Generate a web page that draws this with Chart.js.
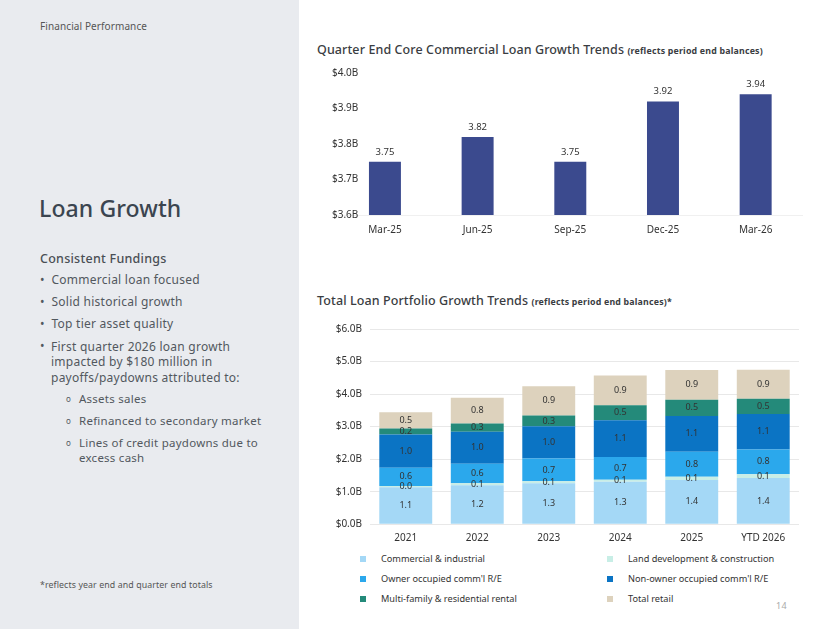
<!DOCTYPE html>
<html>
<head>
<meta charset="utf-8">
<script src="https://cdn.jsdelivr.net/npm/chart.js@4"></script>
<style>
  html, body { margin: 0; padding: 0; }
  body { width: 825px; height: 629px; position: relative; background: #fff; font-family: "Noto Sans", sans-serif; overflow: hidden; }
  #side { position: absolute; left: 0; top: 0; width: 299px; height: 629px; background: #e9ebef; }
  .t { position: absolute; white-space: nowrap; line-height: 16px; color: #52585e; letter-spacing: 0.25px; }
  .chartTitle { position: absolute; left: 317px; white-space: nowrap; color: #3a3d42; font-weight: 500; font-size: 12.5px; line-height: 16px; letter-spacing: 0.1px; }
  .chartTitle span { font-size: 8.8px; font-weight: 700; letter-spacing: 0.2px; }
  canvas { position: absolute; }
  .lg { position: absolute; font-size: 9.2px; color: #333; line-height: 12px; white-space: nowrap; }
  .lg i { position: absolute; left: -21px; top: 3px; width: 6px; height: 6px; }
</style>
</head>
<body>
<div id="side">
  <div class="t" style="left:40px;top:18px;font-size:10px;color:#555;letter-spacing:0.1px;">Financial Performance</div>
  <div class="t" style="left:39px;top:194px;font-size:23px;line-height:28px;font-weight:500;color:#3b4550;letter-spacing:0.1px;">Loan Growth</div>
  <div class="t" style="left:40px;top:251px;font-size:12.5px;font-weight:500;color:#4a4f55;">Consistent Fundings</div>
  <div class="t" style="left:40px;top:272px;font-size:12px;">•&nbsp;&nbsp;Commercial loan focused</div>
  <div class="t" style="left:40px;top:294px;font-size:12px;">•&nbsp;&nbsp;Solid historical growth</div>
  <div class="t" style="left:40px;top:316px;font-size:12px;">•&nbsp;&nbsp;Top tier asset quality</div>
  <div class="t" style="left:40px;top:338px;font-size:12px;line-height:15.4px;">•</div>
  <div class="t" style="left:51px;top:339px;font-size:12px;line-height:15.4px;">First quarter 2026 loan growth<br>impacted by $180 million in<br>payoffs/paydowns attributed to:</div>
  <div class="t" style="left:66px;top:391px;font-size:8px;">o</div>
  <div class="t" style="left:79px;top:391px;font-size:11.5px;">Assets sales</div>
  <div class="t" style="left:66px;top:413px;font-size:8px;">o</div>
  <div class="t" style="left:79px;top:413px;font-size:11.5px;">Refinanced to secondary market</div>
  <div class="t" style="left:66px;top:435px;font-size:8px;">o</div>
  <div class="t" style="left:79px;top:435px;font-size:11.5px;line-height:15px;">Lines of credit paydowns due to<br>excess cash</div>
  <div class="t" style="left:40px;top:577px;font-size:8.8px;color:#555;letter-spacing:0.1px;">*reflects year end and quarter end totals</div>
</div>

<div class="chartTitle" style="top:42px;">Quarter End Core Commercial Loan Growth Trends <span>(reflects period end balances)</span></div>
<canvas id="top" width="500" height="185" style="left:310px;top:60px;"></canvas>

<div class="chartTitle" style="top:293px;">Total Loan Portfolio Growth Trends <span>(reflects period end balances)*</span></div>
<canvas id="bottom" width="500" height="235" style="left:310px;top:315px;"></canvas>
<div id="legend"></div>
<div class="t" style="left:776px;top:598px;font-size:9px;color:#aaa;">14</div>

<script>
// quarter end core commercial loans ($B)
const quarters = ["Mar-25", "Jun-25", "Sep-25", "Dec-25", "Mar-26"];
const coreLoans = [3.75, 3.82, 3.75, 3.92, 3.94];
const coreTicks = [3.6, 3.7, 3.8, 3.9, 4.0];

// total loan portfolio by segment ($B)
const years = ["2021", "2022", "2023", "2024", "2025", "YTD 2026"];
const segmentNames = [
  "Commercial & industrial",
  "Land development & construction",
  "Owner occupied comm'l R/E",
  "Non-owner occupied comm'l R/E",
  "Multi-family & residential rental",
  "Total retail"
];
const commIndustrial = [1.14, 1.2, 1.26, 1.31, 1.36, 1.42];
const landDev = [0.04, 0.06, 0.06, 0.06, 0.1, 0.12];
const ownerOcc = [0.56, 0.6, 0.7, 0.7, 0.77, 0.76];
const nonOwnerOcc = [1.02, 0.98, 0.99, 1.13, 1.1, 1.09];
const multiFamily = [0.18, 0.26, 0.33, 0.46, 0.5, 0.47];
const retail = [0.5, 0.79, 0.9, 0.91, 0.91, 0.89];
const portfolioTicks = [0, 1, 2, 3, 4, 5, 6];

const segmentColors = ["#a4d8f6", "#c8eee6", "#2ba8ec", "#0b74c4", "#248a7a", "#ddd2bd"];
const font = "Noto Sans";

const valueLabels = {
  id: "valueLabels",
  afterDatasetsDraw(chart, args, opts) {
    const ctx = chart.ctx;
    ctx.save();
    ctx.font = `${opts.size}px "${font}"`;
    ctx.fillStyle = opts.color;
    ctx.textAlign = "center";
    chart.data.datasets.forEach((ds, di) => {
      chart.getDatasetMeta(di).data.forEach((bar, i) => {
        const txt = ds.data[i].toFixed(opts.digits);
        if (opts.above) {
          ctx.textBaseline = "bottom";
          ctx.fillText(txt, bar.x, bar.y - 5);
        } else {
          ctx.textBaseline = "middle";
          ctx.fillText(txt, bar.x, (bar.y + bar.base) / 2);
        }
      });
    });
    ctx.restore();
  }
};

new Chart(document.getElementById("top"), {
  type: "bar",
  data: {
    labels: quarters,
    datasets: [{ data: coreLoans, backgroundColor: "#3b4a8e", barPercentage: 0.345, categoryPercentage: 1 }]
  },
  options: {
    responsive: false,
    animation: false,
    layout: { padding: { top: 13, right: 8, left: 0, bottom: 0 } },
    plugins: {
      legend: { display: false },
      tooltip: { enabled: false },
      valueLabels: { size: 9.5, color: "#333", digits: 2, above: true }
    },
    scales: {
      x: {
        grid: { display: false },
        border: { display: true, color: "#f0f0f0" },
        ticks: { color: "#333", font: { family: font, size: 10 }, padding: 1 },
        afterFit: s => { s.height = 30; }
      },
      y: {
        min: 3.6, max: 4.0,
        grid: { display: false, drawTicks: false },
        border: { display: false },
        afterBuildTicks: s => { s.ticks = coreTicks.map(v => ({ value: v })); },
        ticks: { mirror: true, crossAlign: "near", color: "#333", font: { family: font, size: 10 }, padding: -6.6, callback: v => "$" + v.toFixed(1) + "B" },
        afterFit: s => { s.width = 28.6; }
      }
    }
  },
  plugins: [valueLabels]
});

const segmentData = [commIndustrial, landDev, ownerOcc, nonOwnerOcc, multiFamily, retail];

new Chart(document.getElementById("bottom"), {
  type: "bar",
  data: {
    labels: years,
    datasets: segmentNames.map((name, i) => ({
      label: name,
      data: segmentData[i],
      backgroundColor: segmentColors[i],
      barPercentage: 0.74,
      categoryPercentage: 1
    }))
  },
  options: {
    responsive: false,
    animation: false,
    layout: { padding: { top: 10.7, right: 11, left: 0, bottom: 0 } },
    plugins: {
      legend: { display: false },
      tooltip: { enabled: false },
      valueLabels: { size: 9, color: "#333", digits: 1, above: false }
    },
    scales: {
      x: {
        stacked: true,
        grid: { display: false },
        border: { display: false },
        ticks: { color: "#333", font: { family: font, size: 10 }, padding: 0 },
        afterFit: s => { s.height = 25.7; }
      },
      y: {
        stacked: true,
        min: 0, max: 6,
        grid: { color: "#e8e8e8", drawTicks: false },
        border: { display: false },
        afterBuildTicks: s => { s.ticks = portfolioTicks.map(v => ({ value: v })); },
        ticks: { color: "#333", font: { family: font, size: 10 }, padding: 8, callback: v => "$" + v.toFixed(1) + "B" },
        afterFit: s => { s.width = 60; }
      }
    }
  },
  plugins: [valueLabels]
});

// legend: two columns, row-major like the datasets
const legend = document.getElementById("legend");
segmentNames.forEach((name, i) => {
  const col = i % 2, row = Math.floor(i / 2);
  const d = document.createElement("div");
  d.className = "lg";
  d.style.left = (col ? 628 : 381) + "px";
  d.style.top = (553 + row * 20) + "px";
  d.innerHTML = `<i style="background:${segmentColors[i]}"></i>${name}`;
  legend.appendChild(d);
});
</script>
</body>
</html>
